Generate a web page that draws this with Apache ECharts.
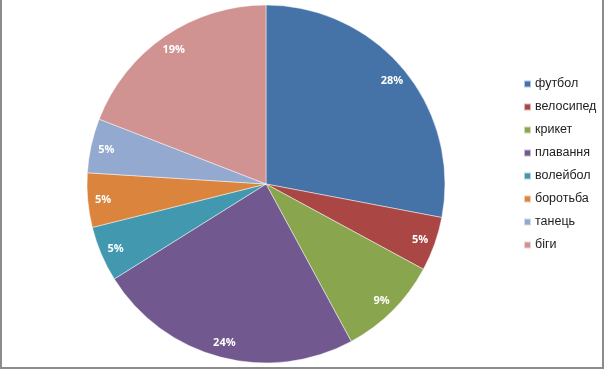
<!DOCTYPE html>
<html>
<head>
<meta charset="utf-8">
<script src="https://cdn.jsdelivr.net/npm/echarts@6/dist/echarts.min.js"></script>
<style>
html,body{margin:0;padding:0;background:#fff;}
#frame{position:absolute;left:0;top:0;width:600px;height:367px;border-left:2px solid #8c8c8c;border-right:2px solid #8c8c8c;border-bottom:2px solid #8c8c8c;}
#chart{position:absolute;left:0;top:0;width:605px;height:370px;}
</style>
</head>
<body>
<div id="chart"></div>
<div id="frame"></div>
<script>
const categories = ['футбол','велосипед','крикет','плавання','волейбол','боротьба','танець','біги'];
const values = [28.0, 4.9, 9.2, 24.0, 5.0, 4.9, 4.9, 19.1];
const colors = ['#4572A7','#AA4643','#89A54E','#71588F','#4198AF','#DB843D','#93A9CF','#D19392'];

const data = categories.map((c, i) => ({name: c, value: values[i]}));
const chart = echarts.init(document.getElementById('chart'));
chart.setOption({
  animation: false,
  color: colors,
  legend: {
    orient: 'vertical',
    left: 518,
    top: 72,
    itemWidth: 7,
    itemHeight: 7,
    itemGap: 9,
    icon: 'rect',
    data: categories,
    textStyle: {fontFamily: 'Liberation Sans, Arial, sans-serif', fontSize: 12.5, color: '#222', lineHeight: 14, padding: [0,0,0,-1]}
  },
  series: [
    {
      type: 'pie',
      center: [266, 184],
      radius: [0, 179],
      startAngle: 90,
      clockwise: true,
      data: data,
      label: {show: false},
      labelLine: {show: false},
      itemStyle: {borderColor: 'rgba(255,255,255,0.6)', borderWidth: 0.8},
      silent: true
    },
    {
      type: 'pie',
      center: [266, 185],
      radius: [142, 179],
      startAngle: 90,
      clockwise: true,
      data: data,
      legendHoverLink: false,
      itemStyle: {color: 'rgba(0,0,0,0)'},
      label: {
        show: true,
        position: 'inside',
        formatter: p => Math.round(p.percent) + '%',
        color: '#fff',
        fontWeight: 'bold',
        fontSize: 11,
        fontFamily: 'Open Sans, Liberation Sans, sans-serif'
      },
      labelLine: {show: false},
      silent: true
    }
  ]
});
</script>
</body>
</html>
